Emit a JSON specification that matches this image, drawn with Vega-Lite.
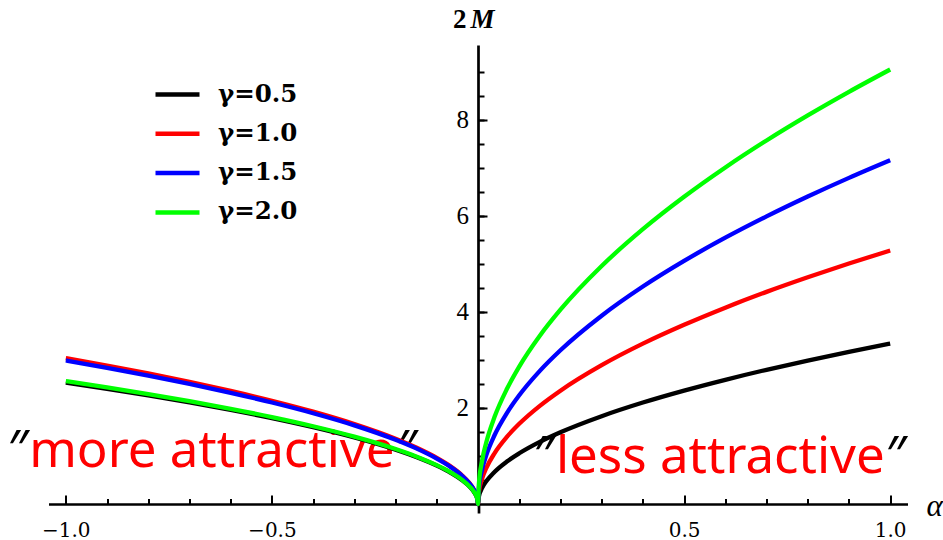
{
  "$schema": "https://vega.github.io/schema/vega-lite/v6.json",
  "width": 859,
  "height": 459,
  "autosize": {"type": "none"},
  "padding": {"left": 48.5, "top": 45, "right": 35.5, "bottom": 36},
  "background": "white",
  "config": {
    "view": {"stroke": null},
    "axis": {"grid": false, "domainColor": "black", "tickColor": "black", "labelColor": "black", "titleColor": "black"}
  },
  "datasets": {
    "notes": [
      {"a": -1.089, "M": 0.771, "t": "more attractive"},
      {"a": 0.189, "M": 0.646, "t": "less attractive"}
    ],
    "quotes": [
      {"a": -1.14, "M": 0.771, "t": "″"},
      {"a": -0.197, "M": 0.771, "t": "″"},
      {"a": 0.136, "M": 0.646, "t": "″"},
      {"a": 0.99, "M": 0.646, "t": "″"}
    ],
    "curves": [
      {"g": "γ=0.5", "a": -1, "M": 2.53}, {"g": "γ=0.5", "a": -0.9, "M": 2.4}, {"g": "γ=0.5", "a": -0.8, "M": 2.263}, {"g": "γ=0.5", "a": -0.7, "M": 2.117},
      {"g": "γ=0.5", "a": -0.6, "M": 1.96}, {"g": "γ=0.5", "a": -0.5, "M": 1.789}, {"g": "γ=0.5", "a": -0.4, "M": 1.6}, {"g": "γ=0.5", "a": -0.3, "M": 1.386},
      {"g": "γ=0.5", "a": -0.2, "M": 1.131}, {"g": "γ=0.5", "a": -0.15, "M": 0.98}, {"g": "γ=0.5", "a": -0.1, "M": 0.8}, {"g": "γ=0.5", "a": -0.07, "M": 0.669},
      {"g": "γ=0.5", "a": -0.04, "M": 0.506}, {"g": "γ=0.5", "a": -0.02, "M": 0.358}, {"g": "γ=0.5", "a": -0.01, "M": 0.253}, {"g": "γ=0.5", "a": -0.002, "M": 0.113},
      {"g": "γ=0.5", "a": 0, "M": 0},
      {"g": "γ=0.5", "a": 0.002, "M": 0.149}, {"g": "γ=0.5", "a": 0.01, "M": 0.334}, {"g": "γ=0.5", "a": 0.02, "M": 0.472}, {"g": "γ=0.5", "a": 0.04, "M": 0.668},
      {"g": "γ=0.5", "a": 0.07, "M": 0.884}, {"g": "γ=0.5", "a": 0.1, "M": 1.056}, {"g": "γ=0.5", "a": 0.15, "M": 1.294}, {"g": "γ=0.5", "a": 0.2, "M": 1.494},
      {"g": "γ=0.5", "a": 0.3, "M": 1.829}, {"g": "γ=0.5", "a": 0.4, "M": 2.113}, {"g": "γ=0.5", "a": 0.5, "M": 2.362}, {"g": "γ=0.5", "a": 0.6, "M": 2.587},
      {"g": "γ=0.5", "a": 0.7, "M": 2.795}, {"g": "γ=0.5", "a": 0.8, "M": 2.987}, {"g": "γ=0.5", "a": 0.9, "M": 3.169}, {"g": "γ=0.5", "a": 1, "M": 3.34},

      {"g": "γ=1.0", "a": -1, "M": 3.04}, {"g": "γ=1.0", "a": -0.9, "M": 2.884}, {"g": "γ=1.0", "a": -0.8, "M": 2.719}, {"g": "γ=1.0", "a": -0.7, "M": 2.544},
      {"g": "γ=1.0", "a": -0.6, "M": 2.355}, {"g": "γ=1.0", "a": -0.5, "M": 2.15}, {"g": "γ=1.0", "a": -0.4, "M": 1.923}, {"g": "γ=1.0", "a": -0.3, "M": 1.665},
      {"g": "γ=1.0", "a": -0.2, "M": 1.36}, {"g": "γ=1.0", "a": -0.15, "M": 1.177}, {"g": "γ=1.0", "a": -0.1, "M": 0.961}, {"g": "γ=1.0", "a": -0.07, "M": 0.804},
      {"g": "γ=1.0", "a": -0.04, "M": 0.608}, {"g": "γ=1.0", "a": -0.02, "M": 0.43}, {"g": "γ=1.0", "a": -0.01, "M": 0.304}, {"g": "γ=1.0", "a": -0.002, "M": 0.136},
      {"g": "γ=1.0", "a": 0, "M": 0},
      {"g": "γ=1.0", "a": 0.002, "M": 0.236}, {"g": "γ=1.0", "a": 0.01, "M": 0.528}, {"g": "γ=1.0", "a": 0.02, "M": 0.747}, {"g": "γ=1.0", "a": 0.04, "M": 1.056},
      {"g": "γ=1.0", "a": 0.07, "M": 1.397}, {"g": "γ=1.0", "a": 0.1, "M": 1.67}, {"g": "γ=1.0", "a": 0.15, "M": 2.045}, {"g": "γ=1.0", "a": 0.2, "M": 2.361},
      {"g": "γ=1.0", "a": 0.3, "M": 2.892}, {"g": "γ=1.0", "a": 0.4, "M": 3.34}, {"g": "γ=1.0", "a": 0.5, "M": 3.733}, {"g": "γ=1.0", "a": 0.6, "M": 4.09},
      {"g": "γ=1.0", "a": 0.7, "M": 4.418}, {"g": "γ=1.0", "a": 0.8, "M": 4.722}, {"g": "γ=1.0", "a": 0.9, "M": 5.009}, {"g": "γ=1.0", "a": 1, "M": 5.28},

      {"g": "γ=1.5", "a": -1, "M": 2.99}, {"g": "γ=1.5", "a": -0.9, "M": 2.837}, {"g": "γ=1.5", "a": -0.8, "M": 2.674}, {"g": "γ=1.5", "a": -0.7, "M": 2.502},
      {"g": "γ=1.5", "a": -0.6, "M": 2.316}, {"g": "γ=1.5", "a": -0.5, "M": 2.114}, {"g": "γ=1.5", "a": -0.4, "M": 1.891}, {"g": "γ=1.5", "a": -0.3, "M": 1.638},
      {"g": "γ=1.5", "a": -0.2, "M": 1.337}, {"g": "γ=1.5", "a": -0.15, "M": 1.158}, {"g": "γ=1.5", "a": -0.1, "M": 0.945}, {"g": "γ=1.5", "a": -0.07, "M": 0.791},
      {"g": "γ=1.5", "a": -0.04, "M": 0.598}, {"g": "γ=1.5", "a": -0.02, "M": 0.423}, {"g": "γ=1.5", "a": -0.01, "M": 0.299}, {"g": "γ=1.5", "a": -0.002, "M": 0.134},
      {"g": "γ=1.5", "a": 0, "M": 0},
      {"g": "γ=1.5", "a": 0.002, "M": 0.32}, {"g": "γ=1.5", "a": 0.01, "M": 0.716}, {"g": "γ=1.5", "a": 0.02, "M": 1.013}, {"g": "γ=1.5", "a": 0.04, "M": 1.432},
      {"g": "γ=1.5", "a": 0.07, "M": 1.894}, {"g": "γ=1.5", "a": 0.1, "M": 2.264}, {"g": "γ=1.5", "a": 0.15, "M": 2.773}, {"g": "γ=1.5", "a": 0.2, "M": 3.202},
      {"g": "γ=1.5", "a": 0.3, "M": 3.922}, {"g": "γ=1.5", "a": 0.4, "M": 4.529}, {"g": "γ=1.5", "a": 0.5, "M": 5.063}, {"g": "γ=1.5", "a": 0.6, "M": 5.546},
      {"g": "γ=1.5", "a": 0.7, "M": 5.99}, {"g": "γ=1.5", "a": 0.8, "M": 6.404}, {"g": "γ=1.5", "a": 0.9, "M": 6.793}, {"g": "γ=1.5", "a": 1, "M": 7.16},

      {"g": "γ=2.0", "a": -1, "M": 2.56}, {"g": "γ=2.0", "a": -0.9, "M": 2.429}, {"g": "γ=2.0", "a": -0.8, "M": 2.29}, {"g": "γ=2.0", "a": -0.7, "M": 2.142},
      {"g": "γ=2.0", "a": -0.6, "M": 1.983}, {"g": "γ=2.0", "a": -0.5, "M": 1.81}, {"g": "γ=2.0", "a": -0.4, "M": 1.619}, {"g": "γ=2.0", "a": -0.3, "M": 1.402},
      {"g": "γ=2.0", "a": -0.2, "M": 1.145}, {"g": "γ=2.0", "a": -0.15, "M": 0.991}, {"g": "γ=2.0", "a": -0.1, "M": 0.809}, {"g": "γ=2.0", "a": -0.07, "M": 0.677},
      {"g": "γ=2.0", "a": -0.04, "M": 0.512}, {"g": "γ=2.0", "a": -0.02, "M": 0.362}, {"g": "γ=2.0", "a": -0.01, "M": 0.256}, {"g": "γ=2.0", "a": -0.002, "M": 0.114},
      {"g": "γ=2.0", "a": 0, "M": 0},
      {"g": "γ=2.0", "a": 0.002, "M": 0.405}, {"g": "γ=2.0", "a": 0.01, "M": 0.905}, {"g": "γ=2.0", "a": 0.02, "M": 1.28}, {"g": "γ=2.0", "a": 0.04, "M": 1.81},
      {"g": "γ=2.0", "a": 0.07, "M": 2.394}, {"g": "γ=2.0", "a": 0.1, "M": 2.862}, {"g": "γ=2.0", "a": 0.15, "M": 3.505}, {"g": "γ=2.0", "a": 0.2, "M": 4.047},
      {"g": "γ=2.0", "a": 0.3, "M": 4.957}, {"g": "γ=2.0", "a": 0.4, "M": 5.724}, {"g": "γ=2.0", "a": 0.5, "M": 6.399}, {"g": "γ=2.0", "a": 0.6, "M": 7.01},
      {"g": "γ=2.0", "a": 0.7, "M": 7.572}, {"g": "γ=2.0", "a": 0.8, "M": 8.094}, {"g": "γ=2.0", "a": 0.9, "M": 8.585}, {"g": "γ=2.0", "a": 1, "M": 9.05}
    ]
  },
  "resolve": {"axis": {"x": "independent", "y": "independent"}},
  "layer": [
    {
      "data": {"name": "notes"},
      "mark": {"type": "text", "font": "Noto Sans", "fontSize": 51, "fill": "#ff0000", "align": "left", "baseline": "alphabetic"},
      "encoding": {
        "x": {"field": "a", "type": "quantitative", "scale": {"domain": [-1.042, 1.042], "nice": false, "zero": false},
          "axis": {"orient": "bottom", "values": [-1, -0.9, -0.8, -0.7, -0.6, -0.5, -0.4, -0.3, -0.2, -0.1, 0.1, 0.2, 0.3, 0.4, 0.5, 0.6, 0.7, 0.8, 0.9, 1],
            "tickSize": -5.5, "tickWidth": 2, "labels": false, "domain": false, "title": null}},
        "y": {"field": "M", "type": "quantitative", "scale": {"domain": [0, 9.56], "nice": false, "zero": false},
          "axis": {"orient": "left", "values": [0.5, 1, 1.5, 2, 2.5, 3, 3.5, 4, 4.5, 5, 5.5, 6, 6.5, 7, 7.5, 8, 8.5, 9],
            "offset": -429.5, "tickSize": -6, "tickWidth": 2, "labels": false, "domain": false,
            "title": "M", "titleAngle": 0, "titleFont": "Liberation Serif", "titleFontStyle": "italic", "titleFontWeight": "bold", "titleFontSize": 27,
            "titleAlign": "left", "titleBaseline": "alphabetic", "titleX": -8, "titleY": -17.7}},
        "text": {"field": "t", "type": "nominal"}
      }
    },
    {
      "data": {"name": "quotes"},
      "mark": {"type": "text", "font": "Noto Sans", "fontSize": 51, "fill": "#000000", "align": "left", "baseline": "alphabetic"},
      "encoding": {
        "x": {"field": "a", "type": "quantitative", "scale": {"domain": [-1.042, 1.042], "nice": false, "zero": false},
          "axis": {"orient": "bottom", "values": [0], "tickSize": 9, "tickWidth": 2.7, "labels": false, "domain": false, "title": null}},
        "y": {"field": "M", "type": "quantitative", "scale": {"domain": [0, 9.56], "nice": false, "zero": false}, "axis": null},
        "text": {"field": "t", "type": "nominal"}
      }
    },
    {
      "data": {"name": "curves"},
      "mark": {"type": "line", "strokeWidth": 4.3, "interpolate": "monotone"},
      "encoding": {
        "x": {"field": "a", "type": "quantitative", "scale": {"domain": [-1.042, 1.042], "nice": false, "zero": false},
          "axis": {"orient": "bottom", "values": [-1, -0.5, 0.5, 1], "format": ".1f", "tickSize": -9, "tickWidth": 2, "domainWidth": 2.7,
            "labelFont": "DejaVu Serif", "labelFontSize": 20, "labelBaseline": "alphabetic", "labelPadding": 41, "labelFlush": false, "labelOverlap": false,
            "title": "α", "titleFont": "Liberation Serif", "titleFontStyle": "italic", "titleFontWeight": "normal", "titleFontSize": 31,
            "titleX": 877.5, "titleY": 11, "titleAlign": "left", "titleBaseline": "alphabetic"}},
        "y": {"field": "M", "type": "quantitative", "scale": {"domain": [0, 9.56], "nice": false, "zero": false},
          "axis": {"orient": "left", "values": [2, 4, 6, 8], "offset": -429.5, "tickSize": -9, "tickWidth": 2, "domainWidth": 2.7,
            "labelFont": "Liberation Serif", "labelFontSize": 25, "labelPadding": 18.5, "labelFlush": false, "labelOverlap": false,
            "title": "2", "titleAngle": 0, "titleFont": "Liberation Serif", "titleFontWeight": "bold", "titleFontSize": 27,
            "titleAlign": "right", "titleBaseline": "alphabetic", "titleX": -12, "titleY": -17.7}},
        "color": {"field": "g", "type": "nominal",
          "scale": {"domain": ["γ=0.5", "γ=1.0", "γ=1.5", "γ=2.0"], "range": ["#000000", "#ff0000", "#0000ff", "#00ff00"]},
          "legend": {"orient": "none", "legendX": 104.5, "legendY": 25, "title": null, "symbolType": "stroke", "symbolSize": 1936,
            "symbolStrokeWidth": 4.5, "labelFont": "DejaVu Serif", "labelFontWeight": "bold", "labelFontSize": 24.5, "labelColor": "black",
            "labelOffset": 16, "rowPadding": 3.3, "padding": 0, "labelLimit": 0}}
      }
    }
  ]
}
